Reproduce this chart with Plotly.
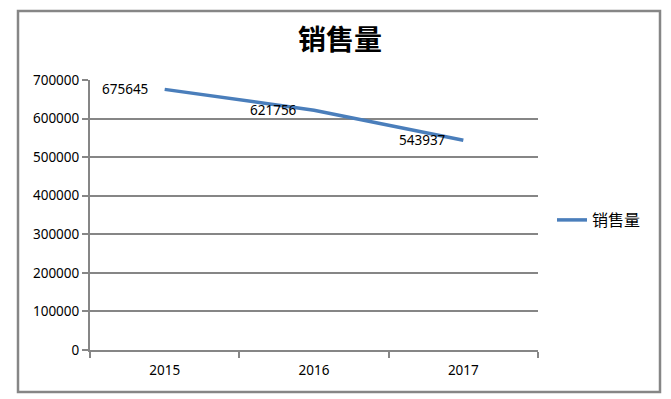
import plotly.graph_objects as go

years = ["2015", "2016", "2017"]
sales = [675645, 621756, 543937]
series_name = "销售量"
title_text = "销售量"

# The page has an 8px body margin, so the figure is laid out 8px smaller.
W, H = 663, 391
L, R, T, B = 82, 530, 72, 342
pw, ph = R - L, B - T

num_font = "Noto Sans, Liberation Sans, sans-serif"
grid = "#868686"

fig = go.Figure()
fig.add_trace(go.Scatter(
    x=years, y=sales, mode="lines", name=series_name,
    line=dict(color="#4a7ebb", width=3.5),
    hoverinfo="x+y",
))
for i, v in enumerate(sales):
    fig.add_annotation(x=i, y=v, xref="x", yref="y", text=str(v), showarrow=False,
                       xanchor="right", yanchor="middle", xshift=-15,
                       font=dict(family=num_font, size=13.5, color="#000000"))

fig.update_layout(
    width=W, height=H,
    margin=dict(l=L, r=W - R, t=T, b=H - B),
    paper_bgcolor="white", plot_bgcolor="white",
    title=dict(text="<b>" + title_text + "</b>", x=332 / W, xanchor="center",
               y=1 - 32 / H, yanchor="middle",
               font=dict(family="Noto Sans CJK SC", size=28, color="#000000")),
    font=dict(family=num_font, size=13.5, color="#000000"),
    showlegend=True,
    legend=dict(x=(544 - L) / pw, xanchor="left", y=(B - 212) / ph, yanchor="middle",
                font=dict(family="Noto Sans CJK SC", size=16, color="#000000"),
                bgcolor="rgba(0,0,0,0)", itemwidth=30),
    xaxis=dict(type="category", range=[-0.5, 2.5], showgrid=False,
               showline=True, linecolor=grid, linewidth=2,
               ticks="outside", tickson="boundaries", ticklen=6, tickwidth=2, tickcolor=grid,
               ticklabelstandoff=7, tickfont=dict(size=13.5)),
    yaxis=dict(range=[0, 700000], dtick=100000, showgrid=True, gridcolor=grid, gridwidth=2,
               showline=True, linecolor=grid, linewidth=2, zeroline=False,
               ticks="outside", ticklen=6, tickwidth=2, tickcolor=grid,
               tickformat="d", tickfont=dict(size=13.5)),
    shapes=[dict(type="rect", xref="paper", yref="paper",
                 x0=(10 - L) / pw, x1=(652 - L) / pw,
                 y0=(B - 384) / ph, y1=(B - 3) / ph,
                 line=dict(color="#868686", width=2.5), fillcolor="rgba(0,0,0,0)", layer="below")],
)

fig.write_html("out.html")
